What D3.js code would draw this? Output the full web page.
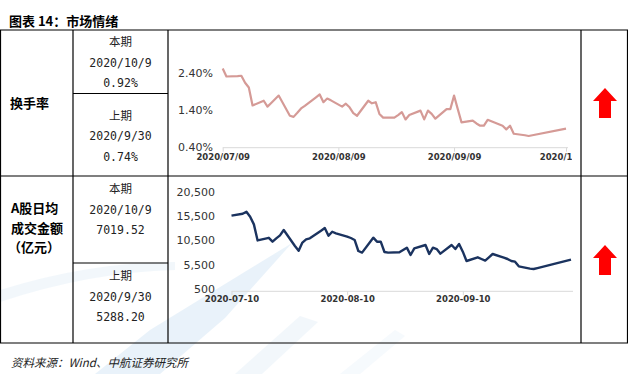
<!DOCTYPE html>
<html>
<head>
<meta charset="utf-8">
<script src="https://cdn.jsdelivr.net/npm/d3@7"></script>
<style>
  body { margin: 0; background: #fff; }
  svg { display: block; }
  text { font-family: "DejaVu Sans", sans-serif; }
  .cjk { font-family: "Noto Sans CJK SC", sans-serif; }
</style>
</head>
<body>
<div id="chart"></div>
<script>
// trading days shown in both panels (the 2nd panel starts one day later)
const tradeDates = [
  "2020-07-09","2020-07-10","2020-07-13","2020-07-14","2020-07-15","2020-07-16","2020-07-17",
  "2020-07-20","2020-07-21","2020-07-22","2020-07-23","2020-07-24","2020-07-27","2020-07-28",
  "2020-07-29","2020-07-30","2020-07-31",
  "2020-08-03","2020-08-04","2020-08-05","2020-08-06","2020-08-07","2020-08-10","2020-08-11",
  "2020-08-12","2020-08-13","2020-08-14","2020-08-17","2020-08-18","2020-08-19","2020-08-20",
  "2020-08-21","2020-08-24","2020-08-25","2020-08-26","2020-08-27","2020-08-28","2020-08-31",
  "2020-09-01","2020-09-02","2020-09-03","2020-09-04","2020-09-07","2020-09-08","2020-09-09",
  "2020-09-10","2020-09-11","2020-09-14","2020-09-15","2020-09-16","2020-09-17","2020-09-18",
  "2020-09-21","2020-09-22","2020-09-23","2020-09-24","2020-09-25","2020-09-28","2020-09-29",
  "2020-09-30","2020-10-09"
];

// 换手率 (%), from 2020-07-09
const turnover = [
  2.56, 2.34, 2.35, 2.36, 2.17, 2.04, 1.55, 1.68, 1.52, 1.62, 1.72, 1.82, 1.27, 1.24, 1.35, 1.47, 1.54,
  1.77, 1.85, 1.64, 1.74, 1.69, 1.52, 1.60, 1.50, 1.34, 1.27, 1.68, 1.61, 1.64, 1.32, 1.22, 1.22, 1.29,
  1.37, 1.17, 1.29, 1.41,
  1.17, 1.41, 1.32, 1.19, 1.45, 1.45, 1.82, 1.45, 1.09, 1.14, 1.06, 1.00, 1.00, 1.16, 1.04, 1.00, 0.90,
  1.00, 0.78, 0.74, 0.72, 0.74,
  0.92
];

// A股日均成交金额 (亿元), from 2020-07-10
const turnoverValue = [
  16090, 16500, 16915, 15880, 14300, 10990, 11530, 10730, 11420, 12040, 13140, 9840, 8850, 10550, 11210, 11420,
  13000, 13550, 11950, 12780, 12450, 11780, 11490, 11080, 8810, 8470, 11560, 10730, 10730, 8600, 8470, 8540,
  9020, 9500, 7990, 9360, 10050,
  8190, 9500, 9220, 8260, 10050, 9220, 10250, 8670, 6750, 7510, 7160, 6820, 7510, 8190, 7440, 7160, 6750,
  6610, 5650, 5170, 5100, 5288.20,
  7019.52
];

const turnoverTicks = [0.40, 1.40, 2.40];
const valueTicks = [500, 5500, 10500, 15500, 20500];
const turnoverDateTicks = ["2020-07-09", "2020-08-09", "2020-09-09", "2020-10-09"];
const valueDateTicks = ["2020-07-10", "2020-08-10", "2020-09-10"];

const rowLabels = [["换手率"], ["A股日均", "成交金额", "（亿元）"]];
const periodNames = ["本期", "上期"];
const periodDates = ["2020/10/9", "2020/9/30"];
const turnoverNow = ["0.92%", "0.74%"];
const valueNow = ["7019.52", "5288.20"];

const W = 628, H = 374;
const parse = d3.timeParse("%Y-%m-%d");

const svg = d3.select("#chart").append("svg")
  .attr("width", W).attr("height", H);

svg.append("rect").attr("width", W).attr("height", H).attr("fill", "#fff");

// faint watermark behind everything
const wm = svg.append("g").attr("fill", "#dcebf7").attr("opacity", 0.6);
wm.append("path").attr("d", "M292,243 L150,330 L95,374 L160,374 L225,318 Z");
wm.append("path").attr("d", "M0,290 Q90,262 175,262 L175,270 Q90,272 0,302 Z").attr("opacity", 0.6);
wm.append("path").attr("d", "M235,374 L300,316 L318,322 L262,374 Z").attr("opacity", 0.6);
wm.append("path").attr("d", "M340,374 L395,330 L405,336 L360,374 Z").attr("opacity", 0.4);

// title
svg.append("text").attr("class", "cjk")
  .attr("x", 9).attr("y", 26)
  .attr("font-size", 13).attr("font-weight", "bold").attr("fill", "#000")
  .text("图表 14：市场情绪");

// table grid
const colX = [0.5, 73, 168, 581, 627.5];
const rowY = [30, 176, 343];
const splitY = [93.5, 263];
const grid = svg.append("g").attr("stroke", "#000").attr("stroke-width", 1.2);
rowY.forEach(y => grid.append("line").attr("x1", 0).attr("x2", W).attr("y1", y).attr("y2", y));
colX.forEach(x => grid.append("line").attr("x1", x).attr("x2", x).attr("y1", rowY[0]).attr("y2", rowY[2]));
splitY.forEach(y => grid.append("line").attr("x1", colX[1]).attr("x2", colX[2]).attr("y1", y).attr("y2", y));

// row labels
svg.append("text").attr("class", "cjk")
  .attr("x", 10).attr("y", 108).attr("font-size", 13).attr("font-weight", "bold")
  .text(rowLabels[0][0]);
rowLabels[1].forEach((t, i) => {
  svg.append("text").attr("class", "cjk")
    .attr("x", i === 2 ? 8 : 11).attr("y", 213 + i * 19.5)
    .attr("font-size", 13).attr("font-weight", "bold")
    .text(t);
});

// period cells
const cx = (colX[1] + colX[2]) / 2;
function periodCell(top, name, date, val) {
  svg.append("text").attr("class", "cjk").attr("x", cx).attr("y", top)
    .attr("text-anchor", "middle").attr("font-size", 11.5).attr("fill", "#222").text(name);
  svg.append("text").attr("x", cx).attr("y", top + 20.5)
    .attr("text-anchor", "middle").attr("font-size", 11.5).attr("fill", "#222")
    .style("font-family", "'DejaVu Sans Mono', monospace").text(date);
  svg.append("text").attr("x", cx).attr("y", top + 41)
    .attr("text-anchor", "middle").attr("font-size", 11.5).attr("fill", "#222")
    .style("font-family", "'DejaVu Sans Mono', monospace").text(val);
}
periodCell(46, periodNames[0], periodDates[0], turnoverNow[0]);
periodCell(119.5, periodNames[1], periodDates[1], turnoverNow[1]);
periodCell(193, periodNames[0], periodDates[0], valueNow[0]);
periodCell(280, periodNames[1], periodDates[1], valueNow[1]);

// clip for the chart cells
svg.append("clipPath").attr("id", "clip1")
  .append("rect").attr("x", 169).attr("y", 31).attr("width", 403).attr("height", 144);
svg.append("clipPath").attr("id", "clip2")
  .append("rect").attr("x", 169).attr("y", 177).attr("width", 406).attr("height", 165);

function drawPanel(opt) {
  const g = svg.append("g").attr("clip-path", `url(#${opt.clip})`);
  const x = d3.scaleTime().domain(opt.xDomain).range(opt.xRange);
  const y = d3.scaleLinear().domain(opt.yDomain).range(opt.yRange);

  // x axis
  const xa = g.append("g").attr("transform", `translate(0,${opt.yRange[0]})`)
    .call(d3.axisBottom(x).tickValues(opt.xTicks.map(parse))
      .tickFormat(d3.timeFormat(opt.xFormat)).tickSize(4).tickPadding(opt.xPad));
  xa.select(".domain").attr("stroke", "#d9d9d9").attr("d", `M${opt.xRange[0]},0H${opt.xRange[1] + 2}`);
  xa.selectAll(".tick line").attr("stroke", "#d9d9d9");
  xa.selectAll(".tick text").attr("fill", "#333").attr("font-size", 8.5)
    .attr("font-weight", "bold").attr("font-family", "DejaVu Sans");

  // y labels only
  const ya = g.append("g").attr("transform", `translate(${opt.yLabelX},0)`)
    .call(d3.axisLeft(y).tickValues(opt.yTicks).tickFormat(opt.yFormat).tickSize(0).tickPadding(0));
  ya.select(".domain").remove();
  ya.selectAll(".tick text").attr("fill", "#333").attr("font-size", 11)
    .attr("font-family", "DejaVu Sans").attr("dy", opt.yDy);

  const line = d3.line().x(d => x(d[0])).y(d => y(d[1]));
  g.append("path").datum(opt.dates.map((d, i) => [parse(d), opt.values[i]]))
    .attr("fill", "none").attr("stroke", opt.color).attr("stroke-width", opt.width)
    .attr("stroke-linejoin", "round").attr("d", line);
}

drawPanel({
  clip: "clip1",
  dates: tradeDates, values: turnover,
  xDomain: [parse("2020-07-09"), parse("2020-10-09")], xRange: [222.7, 566],
  yDomain: [0.40, 2.40], yRange: [147.7, 74.3],
  xTicks: turnoverDateTicks, xFormat: "%Y/%m/%d", xPad: 2.5,
  yTicks: turnoverTicks, yFormat: d => d.toFixed(2) + "%", yLabelX: 213, yDy: "0.22em",
  color: "#d59a96", width: 2.2
});

drawPanel({
  clip: "clip2",
  dates: tradeDates.slice(1), values: turnoverValue,
  xDomain: [parse("2020-07-10"), parse("2020-10-09")], xRange: [231.5, 571],
  yDomain: [500, 20500], yRange: [291.3, 194.3],
  xTicks: valueDateTicks, xFormat: "%Y-%m-%d", xPad: 1,
  yTicks: valueTicks, yFormat: d3.format(","), yLabelX: 215, yDy: "0.1em",
  color: "#1b335f", width: 2.4
});

// red up arrows
function arrow(cxA, top) {
  const h = 30, hw = 12, sw = 6, head = 13;
  svg.append("path").attr("fill", "#ff0000")
    .attr("d", `M${cxA},${top} L${cxA + hw},${top + head} L${cxA + sw},${top + head} L${cxA + sw},${top + h}
      L${cxA - sw},${top + h} L${cxA - sw},${top + head} L${cxA - hw},${top + head} Z`);
}
arrow(605, 88);
arrow(605, 245);

// source
svg.append("text").attr("class", "cjk")
  .attr("x", 11).attr("y", 367).attr("font-size", 11.5).attr("font-style", "italic")
  .attr("fill", "#222")
  .text("资料来源：Wind、中航证券研究所");
</script>
</body>
</html>
